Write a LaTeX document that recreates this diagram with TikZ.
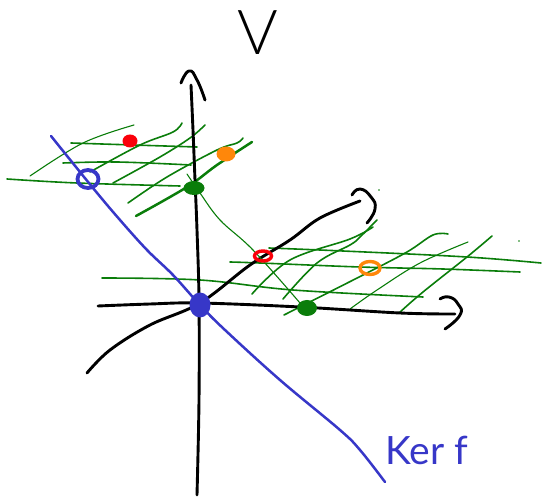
\documentclass[tikz,border=0pt]{standalone}
\usepackage{fontspec}
\setmainfont{Liberation Sans}
\newfontfamily\handfont{Lato Light}
\newfontfamily\kerfont{Lato}
\definecolor{pgreen}{RGB}{10,125,10}
\definecolor{pblue}{RGB}{55,55,200}
\definecolor{pred}{RGB}{250,0,10}
\definecolor{porange}{RGB}{255,135,10}
\usetikzlibrary{shapes.geometric}
\tikzset{
  ink/.style={line cap=round,line join=round},
  axis/.style={ink,draw=black,line width=2.9pt},
  kerline/.style={ink,draw=pblue,line width=2.5pt},
  gridthin/.style={ink,draw=pgreen,line width=1.1pt},
  gridmid/.style={ink,draw=pgreen,line width=1.6pt},
  gridthick/.style={ink,draw=pgreen,line width=2.5pt},
  blob/.style={ellipse,inner sep=0pt,minimum width=#1},
}
\newcommand{\stroke}[2]{\draw[#1] plot[smooth,tension=0.6] coordinates {#2};}
\newcommand{\hook}[2]{\draw[#1] plot[smooth,tension=0.9] coordinates {#2};}
\begin{document}
\begin{tikzpicture}[x=1pt,y=-1pt]
\useasboundingbox (0,0) rectangle (542,497);
% ---- upper sheet
\stroke{gridmid}{(71,143) (133,145) (197,147)}
\stroke{gridmid}{(63,163) (117,162) (191,165)}
\stroke{gridmid}{(7,179) (77,183) (180,186)}
\stroke{gridthin}{(30,176) (83,143) (134,125)}
\stroke{gridmid}{(90,172) (140,145) (173,132) (182,123)}
\stroke{gridmid}{(113,183) (160,157) (190,138) (205,125)}
\stroke{gridmid}{(128,203) (167,177) (217,150) (237,143) (243,138)}
\stroke{gridthick}{(136,216) (187,187) (217,165) (252,142)}
% ---- lower sheet
\stroke{gridmid}{(269,248) (343,251) (467,257) (541,263)}
\stroke{gridmid}{(230,262) (260,263) (360,267) (443,269) (520,272)}
\stroke{gridmid}{(102,278) (200,280) (293,290) (423,297)}
\stroke{gridmid}{(252,294) (290,260) (350,239) (373,227)}
\stroke{gridmid}{(283,299) (317,263) (350,245) (360,237) (377,220)}
\stroke{gridmid}{(284,315) (363,275) (407,252) (433,235) (448,234)}
\stroke{gridthin}{(350,309) (377,290) (420,263) (468,242)}
\stroke{gridmid}{(399,313) (423,292) (467,257) (492,236)}
% ---- axes
\stroke{axis}{(191,85) (193,130) (195,180) (197,230) (199,300) (199,400) (197,495)}
\hook{axis}{(181,83) (189,71) (197,80) (205,100)}
\stroke{axis}{(98,306) (150,304) (200,303) (300,307) (400,313) (455,314)}
\hook{axis}{(440,299) (449,297) (458,304) (460,315) (445,329)}
\stroke{axis}{(87,373) (110,350) (150,325) (200,303) (250,265) (290,240) (320,218) (360,201)}
\hook{axis}{(352,195) (360,189) (371,197) (375,209) (367,223)}
% ---- thin green connector
\stroke{gridthin}{(187,174) (200,193) (220,220) (253,250) (300,303)}
\fill[pgreen] (379,190) circle (0.9pt);
\fill[pgreen] (519,241) circle (0.8pt);
% ---- kernel line
\stroke{kerline}{(51,136) (93,188) (120,220) (147,250) (173,275) (200,305) (225,330) (280,380) (340,430) (360,450) (385,482)}
% ---- points
\node[blob=21pt,minimum height=18pt,draw=pblue,line width=3.8pt] (kerA) at (88,179) {};
\node[blob=21pt,minimum height=25pt,fill=pblue] (kerO) at (200,305) {};
\node[blob=15pt,minimum height=13pt,fill=pred] (redA) at (130,141) {};
\node[blob=19pt,minimum height=15pt,fill=porange] (orA) at (226,154) {};
\node[blob=21pt,minimum height=14pt,fill=pgreen] (grA) at (194,188) {};
\node[blob=17pt,minimum height=10pt,draw=pred,line width=3.4pt] (redB) at (263,256) {};
\node[blob=20pt,minimum height=13pt,draw=porange,line width=3.4pt] (orB) at (370,268) {};
\node[blob=20pt,minimum height=16pt,fill=pgreen] (grB) at (307,308) {};
% ---- labels
\node[anchor=base,font=\handfont\fontsize{62}{62}\selectfont,inner sep=0pt] (vlabel) at (258,55) {V};
\node[anchor=base west,font=\kerfont\fontsize{39}{39}\selectfont,text=pblue,inner sep=0pt] (kerlabel) at (385,465) {Ker f};
\end{tikzpicture}
\end{document}
